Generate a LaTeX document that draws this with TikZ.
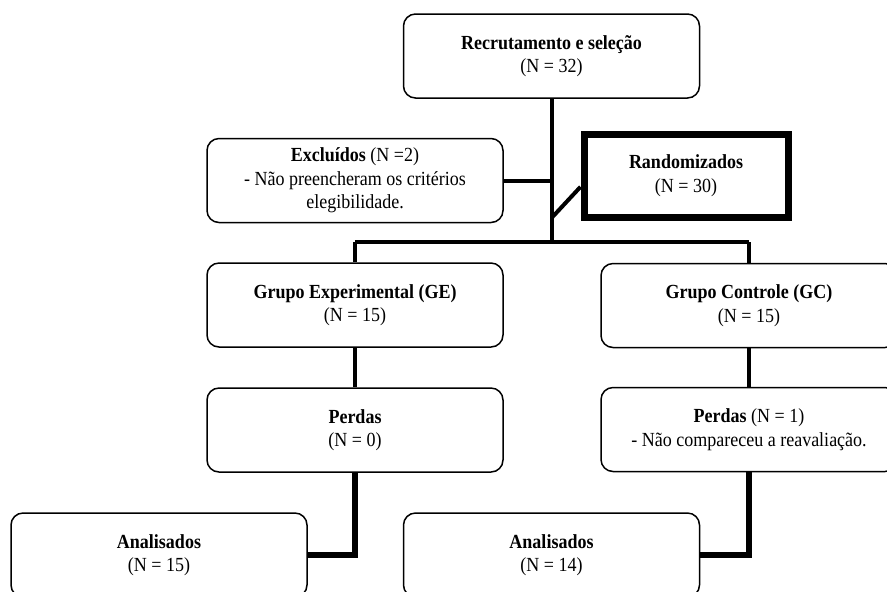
\documentclass[tikz,border=0pt]{standalone}
\usepackage{fontspec}
\setmainfont{Liberation Serif}[FakeStretch=0.9]
\tikzset{
    box/.style={draw, rounded corners=6pt, line width=0.75pt, inner sep=0pt,
        minimum width=148pt, minimum height=42pt, align=center,
        font=\fontsize{10}{11.75}\selectfont},
    thickbox/.style={box, rounded corners=0pt, line width=3.5pt,
        minimum width=102pt, minimum height=41.25pt},
    link/.style={line width=2pt, line join=miter},
    biglink/.style={line width=2.8pt, line join=miter}
}
\begin{document}
\begin{tikzpicture}[x=0.5pt, y=-0.5pt]
    \useasboundingbox (0,0) rectangle (887,591);
    % boxes
    \node[box] (recr) at (551.5,56) {\textbf{Recrutamento e seleção}\\(N = 32)};
    \node[box] (excl) at (355,180.5) {\textbf{Excluídos} (N =2)\\- Não preencheram os critérios\\elegibilidade.};
    \node[thickbox] (rand) at (686,175.75) {\textbf{Randomizados}\\(N = 30)};
    \node[box] (ge) at (355,305) {\textbf{Grupo Experimental (GE)}\\(N = 15)};
    \node[box] (gc) at (749,305.5) {\textbf{Grupo Controle (GC)}\\(N = 15)};
    \node[box] (pge) at (355,430) {\textbf{Perdas}\\(N = 0)};
    \node[box] (pgc) at (749,429.5) {\textbf{Perdas} (N = 1)\\- Não compareceu a reavaliação.};
    \node[box] (age) at (159,555) {\textbf{Analisados}\\(N = 15)};
    \node[box] (agc) at (551.5,555) {\textbf{Analisados}\\(N = 14)};
    % joints
    \coordinate (split) at (551.5,242);
    \coordinate (kink) at (551.5,218);
    \coordinate (barL) at (355,242);
    \coordinate (barR) at (749,242);
    % connectors
    \draw[link] (recr.south) -- (split);
    \draw[link] (excl.east) -- (excl.east -| split);
    \draw[link] (kink) -- (rand.186);
    \draw[link] (barL) -- (barR);
    \draw[link] (barL) -- (ge.north);
    \draw[link] (barR) -- (gc.north);
    \draw[link] (ge.south) -- (pge.north);
    \draw[link] (gc.south) -- (pgc.north);
    \draw[biglink] (pge.south) |- (age.east);
    \draw[biglink] (pgc.south) |- (agc.east);
\end{tikzpicture}
\end{document}
